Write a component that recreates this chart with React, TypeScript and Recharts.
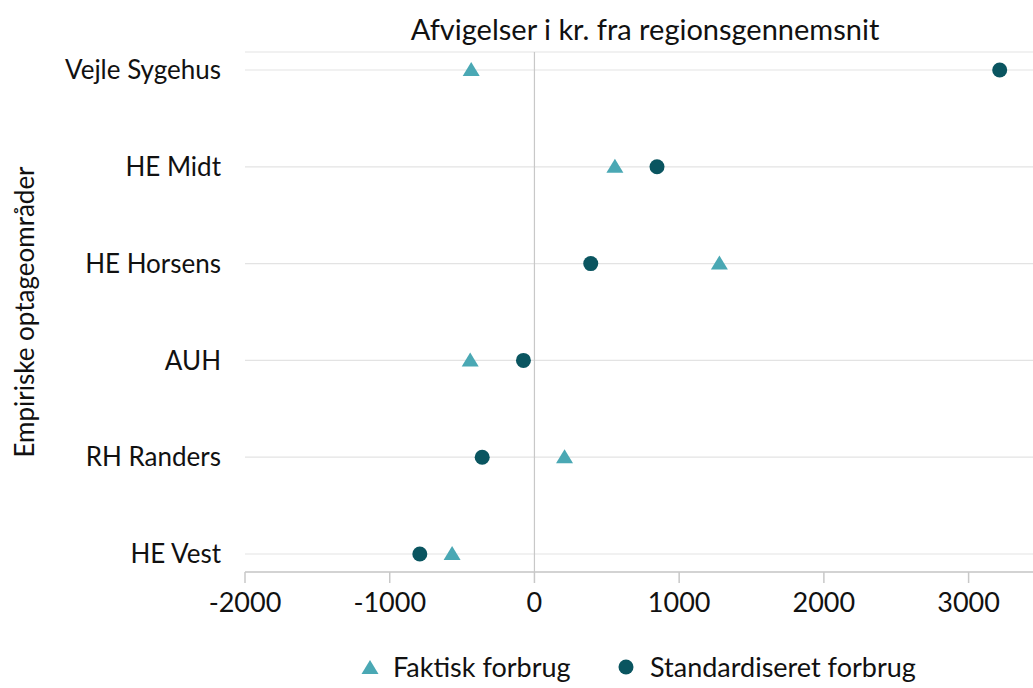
import { ScatterChart, Scatter, XAxis, YAxis, CartesianGrid, ReferenceLine } from 'recharts'

const categories = ['Vejle Sygehus', 'HE Midt', 'HE Horsens', 'AUH', 'RH Randers', 'HE Vest']
const faktisk = [-437, 556, 1278, -444, 208, -569]
const standardiseret = [3215, 847, 389, -76, -361, -792]
const xTicks = [-2000, -1000, 0, 1000, 2000, 3000]

const LIGHT = '#4aa8b4'
const DARK = '#0a5560'
const FONT = 'Lato, "Open Sans", sans-serif'

const faktiskData = categories.map((c, i) => ({ name: c, x: faktisk[i], y: i }))
const standardData = categories.map((c, i) => ({ name: c, x: standardiseret[i], y: i }))

function Triangle({ cx, cy, fill }: { cx?: number; cy?: number; fill?: string }) {
  if (cx == null || cy == null) return null
  return <path d={`M${cx},${cy - 8}L${cx + 8.5},${cy + 6}L${cx - 8.5},${cy + 6}Z`} fill={fill} />
}

function Dot({ cx, cy, fill }: { cx?: number; cy?: number; fill?: string }) {
  if (cx == null || cy == null) return null
  return <circle cx={cx} cy={cy} r={7.5} fill={fill} />
}

function LegendBox() {
  return (
    <div style={{ position: 'absolute', left: 0, top: 646, width: 1033, height: 42, fontFamily: FONT, fontSize: 27, color: '#111' }}>
      <svg width={20} height={20} style={{ position: 'absolute', left: 360, top: 12 }}>
        <path d="M10,2L18.5,16L1.5,16Z" fill={LIGHT} />
      </svg>
      <span style={{ position: 'absolute', left: 393, top: 2, whiteSpace: 'nowrap', lineHeight: '38px' }}>Faktisk forbrug</span>
      <svg width={20} height={20} style={{ position: 'absolute', left: 616, top: 11 }}>
        <circle cx={10} cy={10} r={7.5} fill={DARK} />
      </svg>
      <span style={{ position: 'absolute', left: 650, top: 2, whiteSpace: 'nowrap', lineHeight: '38px' }}>Standardiseret forbrug</span>
    </div>
  )
}

export default function App() {
  return (
    <div style={{ position: 'absolute', left: 0, top: 0, width: 1033, height: 688, background: '#fff', overflow: 'hidden' }}>
      <ScatterChart width={1033} height={688} margin={{ top: 52, right: 0, bottom: 86, left: 0 }}>
        <text x={645} y={40} textAnchor="middle" fontFamily={FONT} fontSize={29} fill="#111">
          Afvigelser i kr. fra regionsgennemsnit
        </text>
        <text
          x={0}
          y={0}
          transform="translate(34,312) rotate(-90)"
          textAnchor="middle"
          fontFamily={FONT}
          fontSize={26}
          fill="#111"
        >
          Empiriske optageområder
        </text>
        <CartesianGrid horizontal vertical={false} stroke="#e3e3e3" strokeWidth={1.2} />
        <XAxis
          type="number"
          dataKey="x"
          domain={[-2000, 3445]}
          ticks={xTicks}
          allowDataOverflow
          stroke="#c8c8c8"
          strokeWidth={1.5}
          tickSize={11}
          tick={{ fill: '#111', fontSize: 27, fontFamily: FONT, dy: 8 }}
          interval={0}
        />
        <YAxis
          type="number"
          dataKey="y"
          reversed
          domain={[-0.186, 5.186]}
          ticks={[0, 1, 2, 3, 4, 5]}
          allowDataOverflow
          width={245}
          axisLine={false}
          tickLine={false}
          tickMargin={18}
          tickFormatter={(v: number) => categories[v] ?? ''}
          tick={{ fill: '#111', fontSize: 26, fontFamily: FONT }}
          interval={0}
        />
        <ReferenceLine x={0} stroke="#c8c8c8" strokeWidth={1.2} />
        <Scatter name="Faktisk forbrug" data={faktiskData} fill={LIGHT} shape={<Triangle />} isAnimationActive={false} />
        <Scatter name="Standardiseret forbrug" data={standardData} fill={DARK} shape={<Dot />} isAnimationActive={false} />
      </ScatterChart>
      <LegendBox />
    </div>
  )
}
